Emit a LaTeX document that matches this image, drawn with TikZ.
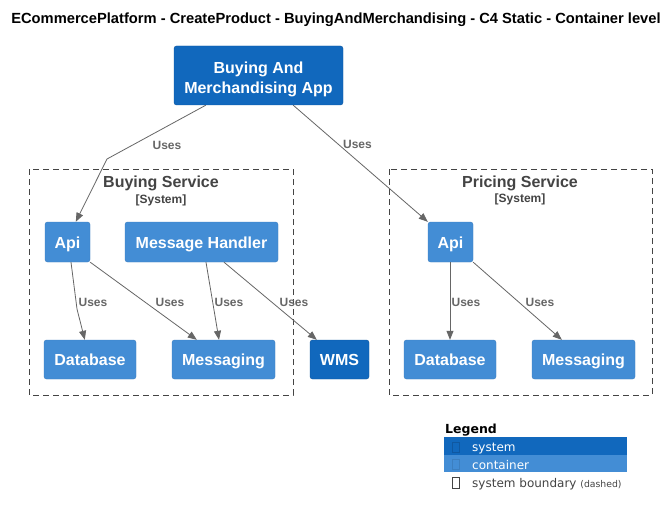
\documentclass[tikz,border=0pt]{standalone}
\usepackage{fontspec}
\setmainfont{Liberation Sans}
\newfontfamily\legendfont{DejaVu Sans}
\usetikzlibrary{arrows.meta}
\definecolor{sysblue}{HTML}{1168BD}
\definecolor{contblue}{HTML}{438DD5}
\definecolor{relgray}{HTML}{666666}
\definecolor{bndgray}{HTML}{444444}

\begin{document}
\begin{tikzpicture}[x=1pt,y=-1pt,
	box/.style={rounded corners=2.5pt,text=white,font=\bfseries\fontsize{16}{20}\selectfont,align=center,inner sep=0pt},
	oneline/.style={text height=15.5pt,text depth=3.5pt},
	system/.style={box,fill=sysblue,draw=sysblue!85!black},
	container/.style={box,oneline,fill=contblue,draw=contblue!90!black},
	boundary/.style={draw=bndgray,line width=0.8pt,dash pattern=on 6pt off 4pt},
	rel/.style={draw=relgray,line width=0.8pt,-{Triangle[length=9pt,width=7pt]}},
	uses/.style={text=relgray,font=\bfseries\fontsize{12}{14}\selectfont,inner sep=0pt},
	bndtitle/.style={anchor=base,text=bndgray,font=\bfseries\fontsize{16}{18}\selectfont,inner sep=0pt},
	bndtag/.style={anchor=base,text=bndgray,font=\bfseries\fontsize{12}{14}\selectfont,inner sep=0pt},
	legtext/.style={anchor=base west,font=\legendfont\fontsize{12}{14}\selectfont,inner sep=0pt}]
	\useasboundingbox[fill=white] (0,0) rectangle (672,516);
	\node[font=\bfseries\fontsize{14.7}{17}\selectfont,inner sep=0pt,anchor=base] (title) at (336,24) {ECommercePlatform - CreateProduct - BuyingAndMerchandising - C4 Static - Container level};

	% boundaries
	\draw[boundary] (29,169) rectangle (293,395);
	\node[bndtitle] (bname) at (161,187.5) {Buying Service};
	\node[bndtag] (btag) at (161,203) {[System]};
	\draw[boundary] (389,169) rectangle (652,395);
	\node[bndtitle] (pname) at (520,187) {Pricing Service};
	\node[bndtag] (ptag) at (520,202.5) {[System]};

	% elements
	\node[system,text height=39.5pt,minimum width=169pt,minimum height=59pt] (app) at (258.5,75.5) {Buying And\\Merchandising App};
	\node[container,minimum width=45pt,minimum height=40pt] (bapi) at (67.5,242) {Api};
	\node[container,minimum width=153pt,minimum height=40pt] (bmh) at (201.5,242) {Message Handler};
	\node[container,minimum width=92pt,minimum height=39pt] (bdb) at (90,359.5) {Database};
	\node[container,minimum width=103pt,minimum height=39pt] (bmsg) at (223.5,359.5) {Messaging};
	\node[system,oneline,minimum width=59pt,minimum height=39pt] (wms) at (339.5,359.5) {WMS};
	\node[container,minimum width=45pt,minimum height=40pt] (papi) at (450.5,242) {Api};
	\node[container,minimum width=92pt,minimum height=39pt] (pdb) at (450,359.5) {Database};
	\node[container,minimum width=103pt,minimum height=39pt] (pmsg) at (583.5,359.5) {Messaging};

	% relations
	\coordinate (appbend) at (107,159);
	\coordinate (apibend) at (77,309);
	\draw[rel] ([xshift=32pt]app.south west) -- (appbend) -- ([xshift=31pt]bapi.north west);
	\draw[rel] ([xshift=-50pt]app.south east) -- (papi.north west);
	\draw[rel] ([xshift=3.5pt]bapi.south) -- (apibend) -- ([xshift=41pt]bdb.north west);
	\draw[rel] (bapi.south east) -- ([xshift=25pt]bmsg.north west);
	\draw[rel] ([xshift=4.5pt]bmh.south) -- ([xshift=-4.5pt]bmsg.north);
	\draw[rel] ([xshift=22.5pt]bmh.south) -- ([xshift=7pt]wms.north west);
	\draw[rel] ([xshift=-0.5pt]papi.south) -- (pdb.north);
	\draw[rel] (papi.south east) -- ([xshift=30pt]pmsg.north west);
	\node[uses] (u1) at (167,145) {Uses};
	\node[uses] (u2) at (357.5,144) {Uses};
	\node[uses] (u3) at (93,302) {Uses};
	\node[uses] (u4) at (170,302) {Uses};
	\node[uses] (u5) at (229,302) {Uses};
	\node[uses] (u6) at (294,302) {Uses};
	\node[uses] (u7) at (466,302) {Uses};
	\node[uses] (u8) at (540,302) {Uses};

	% legend
	\node[font=\legendfont\bfseries\fontsize{12.5}{14}\selectfont,anchor=base west,inner sep=0pt] (legend) at (445,433.5) {Legend};
	\fill[sysblue] (444,437) rectangle (627,454.5);
	\fill[contblue] (444,454.5) rectangle (627,472);
	\draw[sysblue!85!black,line width=0.6pt] (452.5,442) rectangle (459.5,452.5);
	\draw[contblue!90!black,line width=0.6pt] (452.5,459) rectangle (459.5,469.5);
	\draw[bndgray,line width=0.6pt] (452.5,477.5) rectangle (459.5,488);
	\node[legtext,text=white] (lsys) at (472,451) {system};
	\node[legtext,text=white] (lcont) at (472,469) {container};
	\node[legtext,text=bndgray] (lbnd) at (472,487) {system boundary {\fontsize{9.3}{11}\selectfont(dashed)}};
\end{tikzpicture}
\end{document}
